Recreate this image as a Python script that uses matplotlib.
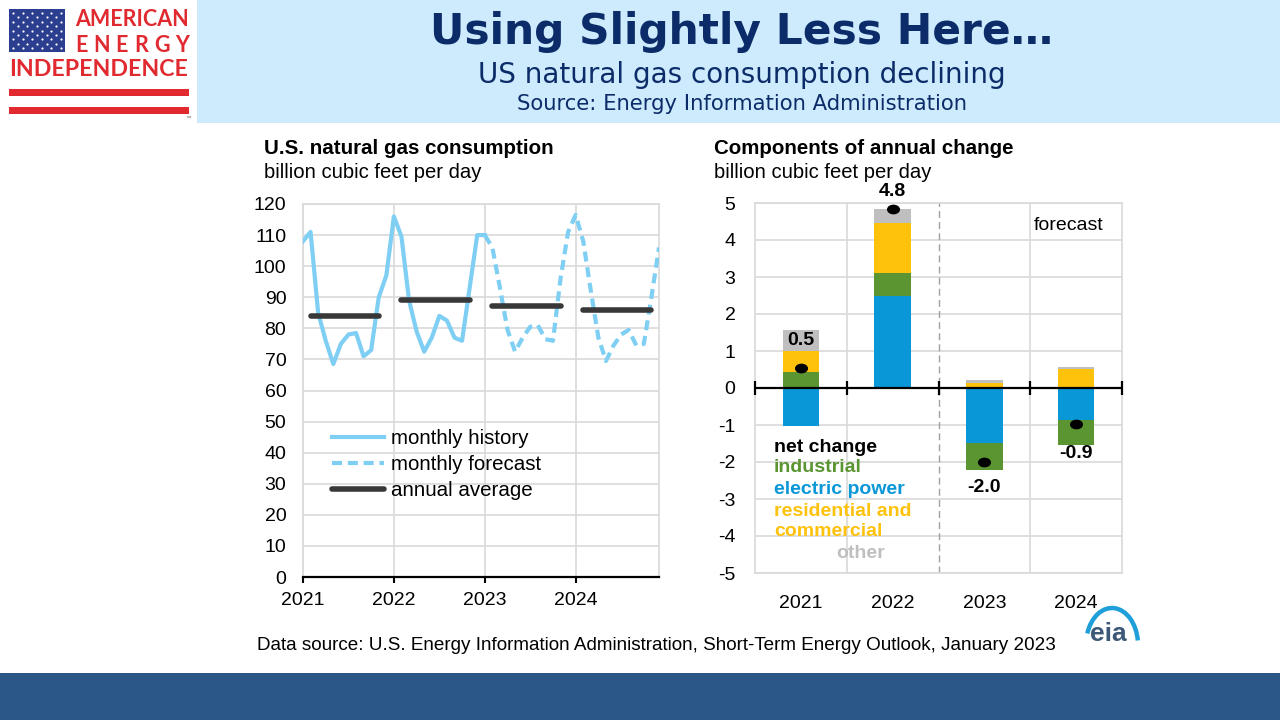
import numpy as np
import matplotlib
matplotlib.use("Agg")
import matplotlib.pyplot as plt
from matplotlib import patches
from matplotlib.markers import MarkerStyle
from matplotlib.transforms import Affine2D

plt.rcParams['font.family'] = ['Liberation Sans', 'DejaVu Sans']
plt.rcParams['axes.unicode_minus'] = False

# monthly US natural gas consumption, billion cubic feet per day
hist_2021 = [108, 111, 85, 76, 68.5, 75, 78, 78.5, 71, 73, 90, 97]
hist_2022 = [116, 109.5, 89, 79, 72.5, 77, 84, 82.5, 77, 76, 93, 110]
hist_2023 = [110]                       # history runs through Jan 2023
fcst_2023 = [110, 106, 93, 79.5, 72.5, 77, 80.5, 81, 76.5, 76, 96, 111]
fcst_2024 = [116.5, 108, 92, 77, 69.5, 74.5, 78, 79.5, 74.5, 75, 90, 106]
years = [2021, 2022, 2023, 2024]
annual_avg = [84.1, 89.0, 87.1, 85.8]

# components of annual change
categories = ['2021', '2022', '2023', '2024']
electric = [-1.04, 2.50, -1.49, -0.87]
industrial = [0.42, 0.60, -0.73, -0.68]
res_comm = [0.57, 1.35, 0.13, 0.52]
other = [0.57, 0.40, 0.08, 0.06]
net_change = [0.54, 4.85, -2.0, -0.96]
net_labels = ['0.5', '4.8', '-2.0', '-0.9']

# colours
LIGHT = '#7fcff4'
DARK = '#383838'
BLUE = '#0a97d8'
GREEN = '#5a9532'
YELLOW = '#fec20c'
GREY = '#bfbfbf'
GRID = '#d9d9d9'
NAVY = '#0c2c69'
RED = '#e02a30'

W, H = 1280, 720
fig = plt.figure(figsize=(12.8, 7.2), dpi=100, facecolor='white')


def px(x, y):
    # pixel position -> figure fraction
    return x / W, 1 - y / H


# ---------- background, header, logo, footer ----------
bg = fig.add_axes([0, 0, 1, 1])
bg.set_xlim(0, W)
bg.set_ylim(H, 0)
bg.axis('off')
bg.add_patch(patches.Rectangle((197, 0), W - 197, 123, color='#cdebfc', lw=0))
bg.add_patch(patches.Rectangle((0, 673), W, 47, color='#2a5785', lw=0))

# flag
bg.add_patch(patches.Rectangle((9, 9), 56, 43, color='#2c3e8f', lw=0))
sx, sy = [], []
for r in range(9):
    n = 6 if r % 2 == 0 else 5
    off = 0 if r % 2 == 0 else 4.8
    for c in range(n):
        sx.append(13 + off + c * 9.6)
        sy.append(13 + r * 4.4)
bg.scatter(sx, sy, s=2.5, color='white', lw=0)
bg.add_patch(patches.Rectangle((9, 89), 180, 7, color=RED, lw=0))
bg.add_patch(patches.Rectangle((9, 107), 180, 7, color=RED, lw=0))
fig.text(*px(75, 20), 'AMERICAN', color=RED, fontsize=15.5, weight='bold',
         family='Lato', va='center', ha='left')
for k, ch in enumerate('ENERGY'):
    fig.text(*px(81 + k * 20.2, 45), ch, color=RED, fontsize=15.5, weight='bold',
             family='Lato', va='center', ha='center')
fig.text(*px(9, 70), 'INDEPENDENCE', color=RED, fontsize=16.7, weight='bold',
         family='Lato', va='center', ha='left')
fig.text(*px(185, 118), '™', color='#666666', fontsize=4, va='center')

# header titles
fig.text(*px(742, 32), 'Using Slightly Less Here…', color=NAVY, fontsize=30.5,
         weight='bold', family='DejaVu Sans', ha='center', va='center')
fig.text(*px(742, 75), 'US natural gas consumption declining', color=NAVY,
         fontsize=20, family='DejaVu Sans', ha='center', va='center')
fig.text(*px(742, 104), 'Source: Energy Information Administration', color=NAVY,
         fontsize=15.2, family='DejaVu Sans', ha='center', va='center')

# footer
fig.text(*px(257, 645), 'Data source: U.S. Energy Information Administration, '
         'Short-Term Energy Outlook, January 2023', fontsize=13.6,
         ha='left', va='center')
bg.add_patch(patches.Arc((1112, 645), 52, 74, theta1=205, theta2=350,
                         color='#1e9fda', lw=3.2))
fig.text(*px(1108, 634), 'eia', color='#3c5a78', fontsize=19, weight='bold',
         ha='center', va='center')

# ---------- left chart: monthly consumption ----------
ax1 = fig.add_axes([303 / W, 1 - 577 / H, 356 / W, 373 / H])
hist = hist_2021 + hist_2022 + hist_2023
fcst = fcst_2023 + fcst_2024
x_hist = years[0] + np.arange(len(hist)) / 12
x_fcst = years[2] + np.arange(len(fcst)) / 12
ax1.plot(x_hist, hist, color=LIGHT, lw=3, label='monthly history', zorder=3)
ax1.plot(x_fcst, fcst, color=LIGHT, lw=3, dashes=(2.4, 1.4),
         label='monthly forecast', zorder=3)
for i, (yr, avg) in enumerate(zip(years, annual_avg)):
    ax1.plot([yr + 1 / 12, yr + 10 / 12], [avg, avg], color=DARK, lw=4,
             solid_capstyle='round', zorder=4,
             label='annual average' if i == 0 else None)

ax1.set_xlim(years[0], years[-1] + 11 / 12)
ax1.set_ylim(0, 120)
ax1.set_yticks(range(0, 121, 10))
ax1.set_xticks(years)
ax1.set_xticklabels([str(y) for y in years])
ax1.grid(True, color=GRID, lw=1.2)
ax1.set_axisbelow(True)
for s in ['top', 'right', 'left']:
    ax1.spines[s].set_color(GRID)
    ax1.spines[s].set_linewidth(1.2)
ax1.spines['bottom'].set_color('black')
ax1.spines['bottom'].set_linewidth(1.6)
ax1.tick_params(axis='y', length=0, labelsize=14, pad=12)
ax1.tick_params(axis='x', length=4, width=1.5, labelsize=14, pad=7)
ax1.legend(loc='upper left', bbox_to_anchor=((332 - 303) / 356, (577 - 429) / 373),
           frameon=False, fontsize=14.8, handlelength=2.55, handletextpad=0.3,
           labelspacing=0.35, borderpad=0, borderaxespad=0)

fig.text(*px(264, 149), 'U.S. natural gas consumption', fontsize=14.8, weight='bold',
         ha='left', va='center')
fig.text(*px(264, 172), 'billion cubic feet per day', fontsize=14.6,
         ha='left', va='center')

# ---------- right chart: components of annual change ----------
ax2 = fig.add_axes([755 / W, 1 - 573 / H, 367 / W, 370 / H])
xpos = np.arange(len(categories))
pos_base = np.zeros(len(categories))
neg_base = np.zeros(len(categories))
for vals, col in [(electric, BLUE), (industrial, GREEN), (res_comm, YELLOW), (other, GREY)]:
    v = np.array(vals)
    base = np.where(v >= 0, pos_base, neg_base)
    ax2.bar(xpos, v, 0.4, bottom=base, color=col, lw=0, zorder=2)
    pos_base += np.where(v >= 0, v, 0)
    neg_base += np.where(v < 0, v, 0)

dot = MarkerStyle('o', transform=Affine2D().scale(1.4, 1.0))
ax2.plot(xpos, net_change, ls='none', marker=dot, ms=6, color='black', zorder=5)
label_offsets = [19.5, 12.5, -18, -21.5]
for x, v, txt, off in zip(xpos, net_change, net_labels, label_offsets):
    ax2.annotate(txt, (x, v), xytext=(0, off), textcoords='offset points',
                 ha='center', va='center', fontsize=14, weight='bold', zorder=6)

ax2.set_xlim(-0.5, len(categories) - 0.5)
ax2.set_ylim(-5, 5)
ax2.set_yticks(range(-5, 6))
ax2.set_xticks(xpos)
ax2.set_xticklabels(categories)
ax2.yaxis.grid(True, color=GRID, lw=1.2)
ax2.set_axisbelow(True)
for b in [0.5, 2.5]:
    ax2.axvline(b, color=GRID, lw=1.2, zorder=1)
ax2.axvline(1.5, color='#a0a0a0', lw=1.0, dashes=(5, 3), zorder=1)
for s in ax2.spines.values():
    s.set_color(GRID)
    s.set_linewidth(1.2)
ax2.axhline(0, color='black', lw=1.6, zorder=4)
edges = np.arange(len(categories) + 1) - 0.5
ax2.plot(edges, np.zeros(len(edges)), ls='none', marker='|', ms=10, mew=1.6,
         color='black', clip_on=False, zorder=4)
ax2.tick_params(axis='y', length=0, labelsize=14, pad=14)
ax2.tick_params(axis='x', length=0, labelsize=14, pad=16)

fig.text(*px(1034, 226), 'forecast', fontsize=14, ha='left', va='center')
leg_items = [('net change', 'black', 774, 447), ('industrial', GREEN, 774, 467),
             ('electric power', BLUE, 774, 490), ('residential and', YELLOW, 774, 511),
             ('commercial', YELLOW, 774, 532), ('other', GREY, 836, 553)]
for txt, col, x, y in leg_items:
    fig.text(*px(x, y), txt, color=col, fontsize=14, weight='bold',
             ha='left', va='center')

fig.text(*px(714, 149), 'Components of annual change', fontsize=14.8, weight='bold',
         ha='left', va='center')
fig.text(*px(714, 172), 'billion cubic feet per day', fontsize=14.6,
         ha='left', va='center')

fig.savefig('out.png', dpi=100, facecolor='white')
